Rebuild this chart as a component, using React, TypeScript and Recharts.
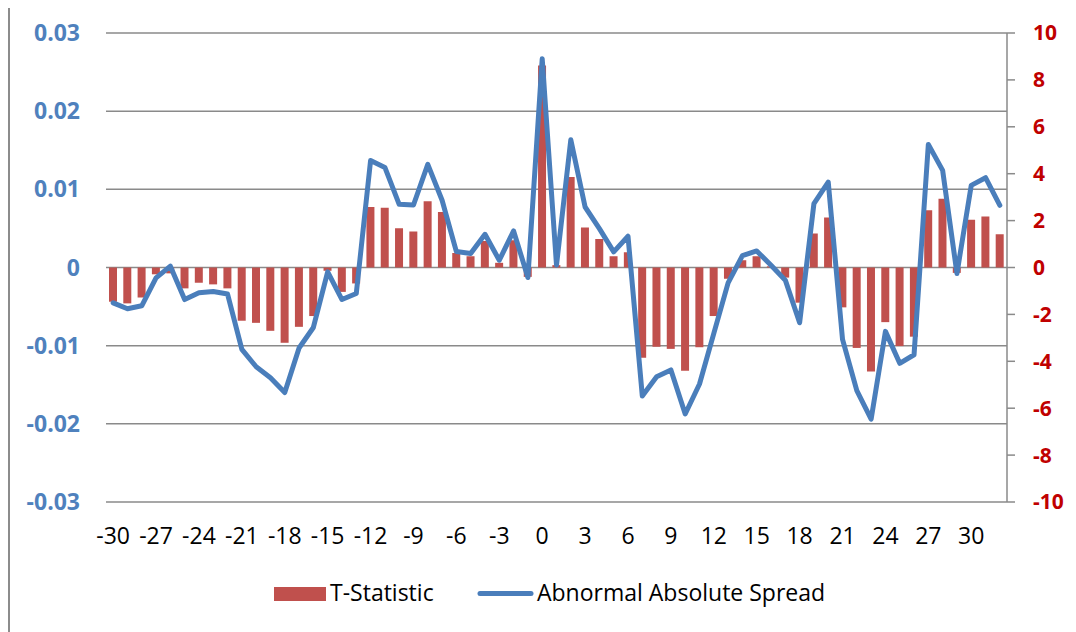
import React from 'react';
import { ComposedChart, Bar, Line, XAxis, YAxis, CartesianGrid, Legend } from 'recharts';

const days = [
  -30, -29, -28, -27, -26, -25, -24, -23, -22, -21, -20, -19, -18, -17, -16, -15, -14, -13, -12, -11,
  -10, -9, -8, -7, -6, -5, -4, -3, -2, -1, 0, 1, 2, 3, 4, 5, 6, 7, 8, 9,
  10, 11, 12, 13, 14, 15, 16, 17, 18, 19, 20, 21, 22, 23, 24, 25, 26, 27, 28, 29,
  30, 31, 32,
];

const tStatistic = [
  -1.46, -1.53, -1.28, -0.29, -0.25, -0.89, -0.65, -0.72, -0.89, -2.27,
  -2.36, -2.7, -3.21, -2.53, -2.07, -0.14, -1.04, -0.68, 2.58, 2.55,
  1.67, 1.53, 2.82, 2.37, 0.62, 0.48, 1.13, 0.2, 1.16, -0.4,
  8.61, 0.1, 3.86, 1.71, 1.22, 0.48, 0.65, -3.85, -3.38, -3.47,
  -4.4, -3.4, -2.07, -0.48, 0.31, 0.48, 0.05, -0.43, -1.5, 1.45,
  2.13, -1.7, -3.43, -4.43, -2.33, -3.35, -2.95, 2.44, 2.93, -0.23,
  2.04, 2.18, 1.42,
];

const abnormalSpread = [
  -0.00452, -0.00528, -0.0049, -0.00133, 0.00017, -0.0041, -0.00324, -0.00307, -0.0034, -0.01047,
  -0.0127, -0.0141, -0.016, -0.0103, -0.00767, -0.00056, -0.0041, -0.00333, 0.0137, 0.0128,
  0.00808, 0.008, 0.0132, 0.0086, 0.00204, 0.00179, 0.00425, 0.00093, 0.00468, -0.00128,
  0.0267, 0.0003, 0.01635, 0.00774, 0.00498, 0.002, 0.004, -0.01644, -0.01397, -0.0131,
  -0.01874, -0.0149, -0.00843, -0.00196, 0.00153, 0.00212, 0.0003, -0.00162, -0.00707, 0.00817,
  0.01093, -0.0092, -0.01575, -0.01941, -0.00817, -0.01226, -0.01116, 0.01575, 0.01243, -0.00077,
  0.01051, 0.01149, 0.00796,
];

const leftTicks = [-0.03, -0.02, -0.01, 0, 0.01, 0.02, 0.03];
const rightTicks = [-10, -8, -6, -4, -2, 0, 2, 4, 6, 8, 10];

const seriesNames = { bar: 'T-Statistic', line: 'Abnormal Absolute Spread' };

const data = days.map((d, i) => ({
  day: String(d),
  t: tStatistic[i],
  spread: abnormalSpread[i],
}));

const FONT = '"Open Sans", sans-serif';
const BAR_COLOR = '#C0504D';
const LINE_COLOR = '#4A7EBB';
const GRID = '#8A8A8A';

const LegendContent = () => (
  <svg width={1068} height={62} style={{ display: 'block' }}>
    <rect x={266} y={17} width={52} height={14} fill={BAR_COLOR} />
    <text x={322} y={30.5} fontFamily={FONT} fontSize={23} fill="#000">
      {seriesNames.bar}
    </text>
    <line x1={472} y1={23.5} x2={523} y2={23.5} stroke={LINE_COLOR} strokeWidth={5} strokeLinecap="round" />
    <text x={529} y={30.5} fontFamily={FONT} fontSize={23} fill="#000">
      {seriesNames.line}
    </text>
  </svg>
);

export default function App() {
  return (
    <div
      style={{
        position: 'relative',
        marginTop: -5,
        width: 1068,
        height: 629,
        overflow: 'hidden',
        background: '#fff',
      }}
    >
      <div
        style={{
          position: 'absolute',
          left: 0,
          top: 0,
          width: 1200,
          height: 800,
          borderLeft: '2px solid #8C8C8C',
          borderTop: '2px solid #8C8C8C',
          pointerEvents: 'none',
          zIndex: 2,
        }}
      />
      <ComposedChart
        width={1068}
        height={629}
        data={data}
        margin={{ top: 30, right: 0, bottom: 0, left: 0 }}
        barCategoryGap={0}
      >
        <CartesianGrid
          yAxisId="left"
          vertical={false}
          horizontal={true}
          stroke={GRID}
          strokeWidth={1.5}
        />
        <XAxis
          dataKey="day"
          type="category"
          interval={2}
          height={68}
          tickLine={false}
          axisLine={false}
          tickSize={6}
          tickMargin={20}
          tick={{ fontFamily: FONT, fontSize: 23, fill: '#000' }}
        />
        <YAxis
          yAxisId="left"
          orientation="left"
          width={98}
          domain={[-0.03, 0.03]}
          ticks={leftTicks}
          allowDataOverflow
          tickLine={false}
          axisLine={false}
          tickSize={6}
          tickMargin={20}
          tickFormatter={(v: number) => String(v)}
          tick={{ fontFamily: FONT, fontSize: 23, fontWeight: 700, fill: '#4F81BD' }}
        />
        <YAxis
          yAxisId="right"
          orientation="right"
          width={69}
          domain={[-10, 10]}
          ticks={rightTicks}
          allowDataOverflow
          tickLine={{ stroke: GRID, strokeWidth: 1.5 }}
          axisLine={{ stroke: GRID, strokeWidth: 1.5 }}
          tickSize={8}
          tickMargin={18}
          tickFormatter={(v: number) => String(v)}
          tick={{ fontFamily: FONT, fontSize: 21, fontWeight: 700, fill: '#C00000' }}
        />
        <Legend
          verticalAlign="bottom"
          align="left"
          wrapperStyle={{ left: 0, width: 1068, height: 62 }}
          content={() => <LegendContent />}
        />
        <Bar
          yAxisId="right"
          dataKey="t"
          name={seriesNames.bar}
          fill={BAR_COLOR}
          barSize={8}
          isAnimationActive={false}
        />
        <Line
          yAxisId="left"
          dataKey="spread"
          name={seriesNames.line}
          type="linear"
          stroke={LINE_COLOR}
          strokeWidth={5}
          strokeLinejoin="round"
          strokeLinecap="round"
          dot={false}
          activeDot={false}
          isAnimationActive={false}
        />
      </ComposedChart>
    </div>
  );
}
